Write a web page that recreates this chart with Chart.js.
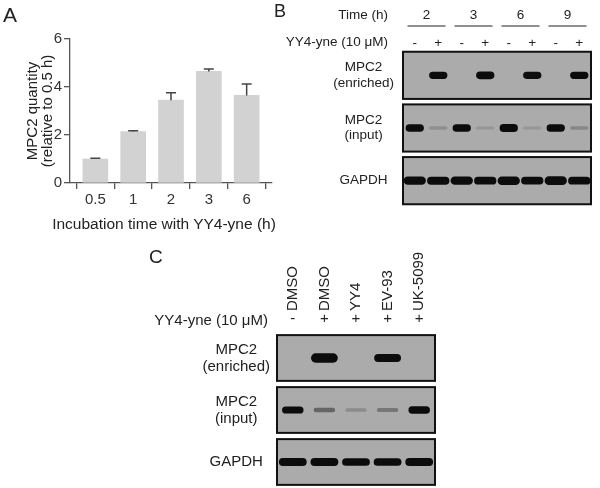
<!DOCTYPE html>
<html>
<head>
<meta charset="utf-8">
<script src="https://cdn.jsdelivr.net/npm/chart.js@4.4.1/dist/chart.umd.min.js"></script>
<style>
  body { margin: 0; background: #fff; font-family: "Liberation Sans", Arial, sans-serif; color: #222; }
  #fig { position: relative; width: 600px; height: 488px; overflow: hidden; }
  .box { position: absolute; }
  .lbl { position: absolute; white-space: nowrap; line-height: 1; }
</style>
</head>
<body>
<div id="fig">
  <div class="box" style="left:0;top:0;width:300px;height:240px"><canvas id="chartA"></canvas></div>
  <div class="box" style="left:275px;top:0;width:325px;height:210px"><canvas id="chartB"></canvas></div>
  <div class="box" style="left:140px;top:240px;width:300px;height:248px"><canvas id="chartC"></canvas></div>

  <div class="lbl" style="left:3px;top:4px;font-size:21px">A</div>
  <div class="lbl" style="left:52px;width:224px;text-align:center;top:216px;font-size:15.5px">Incubation time with YY4-yne (h)</div>
  <div class="lbl" style="left:274px;top:2px;font-size:18px">B</div>
  <div class="lbl" style="right:212px;top:8px;font-size:13.5px">Time (h)</div>
  <div class="lbl" style="right:212px;top:35px;font-size:13.5px">YY4-yne (10 μM)</div>
  <div class="lbl" style="left:149px;top:247px;font-size:19px">C</div>
  <div class="lbl" style="right:332px;top:312px;font-size:15px">YY4-yne (10 μM)</div>
</div>

<script>
// panel A: MPC2 labelling over time
const incubationTimes = ['0.5', '1', '2', '3', '6'];
const mpc2Quantity = [1.0, 2.14, 3.45, 4.65, 3.65];
const mpc2Error = [0.03, 0.04, 0.31, 0.1, 0.47];
const yTicksA = [0, 2, 4, 6];

// panel B: blot, band strength per lane (0 = no band)
const timeGroupsB = ['2', '3', '6', '9'];
const probeB = ['-', '+', '-', '+', '-', '+', '-', '+'];
const enrichedB = [0, 0.95, 0, 1.0, 0, 0.9, 0, 0.95];
const inputB = [1.0, 0.15, 1.0, 0.12, 1.05, 0.12, 0.95, 0.2];
const gapdhB = [1.15, 1.1, 1.15, 1.05, 1.2, 1.0, 1.25, 1.05];

// panel C: competition blot
const treatmentsC = ['DMSO', 'DMSO', 'YY4', 'EV-93', 'UK-5099'];
const probeC = ['-', '+', '+', '+', '+'];
const enrichedC = [0, 1.4, 0, 1.1, 0];
const inputC = [0.95, 0.4, 0.18, 0.3, 1.0];
const gapdhC = [1.1, 1.1, 1.05, 1.05, 1.1];

const blotRows = [['MPC2', '(enriched)'], ['MPC2', '(input)'], 'GAPDH'];

const FONT = "'Liberation Sans', Arial, sans-serif";
const INK = '#222';
const AXIS = '#555';

const errorBars = {
    id: 'errorBars',
    afterDatasetsDraw(chart) {
        const {ctx, scales: {x, y}} = chart;
        ctx.save();
        ctx.strokeStyle = '#444';
        ctx.lineWidth = 1.5;
        mpc2Quantity.forEach((v, i) => {
            const px = x.getPixelForValue(i);
            const top = y.getPixelForValue(v + mpc2Error[i]);
            const base = y.getPixelForValue(v);
            ctx.beginPath();
            ctx.moveTo(px, base);
            ctx.lineTo(px, top);
            ctx.moveTo(px - 5, top);
            ctx.lineTo(px + 5, top);
            ctx.stroke();
        });
        ctx.restore();
    }
};

function createTimeCourseChart(ctx) {
    new Chart(ctx, {
        type: 'bar',
        data: {
            datasets: [{
                data: mpc2Quantity.map((v, i) => ({x: i, y: v})),
                backgroundColor: '#d2d2d2',
                barThickness: 25
            }]
        },
        options: {
            responsive: true,
            maintainAspectRatio: false,
            animation: false,
            layout: { padding: { top: 39, right: 28, left: 0, bottom: 0 } },
            plugins: { legend: { display: false }, tooltip: { enabled: false } },
            scales: {
                x: {
                    type: 'linear',
                    offset: false,
                    min: -0.67,
                    max: 4.67,
                    afterBuildTicks: s => { s.ticks = incubationTimes.map((t, i) => ({value: i})); },
                    afterFit: s => { s.height = 57; },
                    ticks: {
                        callback: (v, i) => incubationTimes[i],
                        color: '#333',
                        font: { size: 15, family: FONT },
                        padding: 2,
                        maxRotation: 0
                    },
                    grid: { drawOnChartArea: false, tickLength: 6, color: AXIS, lineWidth: 1.3 },
                    border: { color: AXIS, width: 1.3 }
                },
                y: {
                    min: 0,
                    max: 6,
                    afterBuildTicks: s => { s.ticks = yTicksA.map(v => ({value: v})); },
                    afterFit: s => { s.width = 70; },
                    ticks: { color: '#333', font: { size: 15, family: FONT }, padding: 2 },
                    grid: { drawOnChartArea: false, tickLength: 6, color: AXIS, lineWidth: 1.3 },
                    border: { color: AXIS, width: 1.3 },
                    title: {
                        display: true,
                        text: ['MPC2 quantity', '(relative to 0.5 h)'],
                        color: INK,
                        font: { size: 15, family: FONT, lineHeight: 0.95 },
                        padding: { top: 26, bottom: 0 }
                    }
                }
            }
        },
        plugins: [errorBars]
    });
}

// grey membrane strips behind the bands, one per blot row
const blotStrips = {
    id: 'blotStrips',
    beforeDatasetsDraw(chart, args, opts) {
        const {ctx, chartArea: {left, right}, scales: {y}} = chart;
        ctx.save();
        for (let r = 0; r < blotRows.length; r++) {
            const top = y.getPixelForValue(r + opts.inset);
            const bottom = y.getPixelForValue(r + 1 - opts.inset);
            ctx.fillStyle = '#ababab';
            ctx.fillRect(left, top, right - left, bottom - top);
            ctx.strokeStyle = '#111';
            ctx.lineWidth = 2;
            ctx.strokeRect(left, top, right - left, bottom - top);
        }
        ctx.restore();
    },
    // soften band edges a little, like film exposure
    beforeDatasetDraw(chart) {
        chart.ctx.save();
        chart.ctx.filter = 'blur(0.7px)';
    },
    afterDatasetDraw(chart) {
        chart.ctx.restore();
    }
};

const groupUnderline = {
    id: 'groupUnderline',
    afterDraw(chart) {
        const s = chart.scales.time;
        if (!s) return;
        const {ctx} = chart;
        ctx.save();
        ctx.strokeStyle = '#222';
        ctx.lineWidth = 1.2;
        s.ticks.forEach((t, i) => {
            const cx = s.getPixelForTick(i);
            ctx.beginPath();
            ctx.moveTo(cx - 19, s.bottom - 7);
            ctx.lineTo(cx + 19, s.bottom - 7);
            ctx.stroke();
        });
        ctx.restore();
    }
};

function bandHalf(v) {
    return 0.025 + 0.047 * v;
}

function bandDataset(levels, row, width) {
    return {
        data: levels.map(v => v > 0 ? [row + 0.5 - bandHalf(v), row + 0.5 + bandHalf(v)] : null),
        backgroundColor: levels.map(v => 'rgba(12,12,12,' + Math.min(1, v * 1.1) + ')'),
        borderRadius: 20,
        borderSkipped: false,
        grouped: false,
        barPercentage: width,
        categoryPercentage: 1
    };
}

function createBlotChart(ctx, cfg) {
    const topAxis = {
        position: 'top',
        grid: { display: false, drawTicks: false },
        border: { display: false },
        afterFit: s => { s.height = cfg.signHeight; },
        ticks: {
            autoSkip: false,
            maxRotation: 0,
            color: INK,
            font: { size: cfg.fontSize, family: FONT },
            padding: cfg.signPad
        }
    };
    const upperAxis = {
        type: 'category',
        position: 'top',
        weight: 1,
        labels: cfg.upperLabels,
        offset: true,
        grid: { display: false, drawTicks: false },
        border: { display: false },
        afterFit: s => { s.height = cfg.upperHeight; },
        ticks: {
            autoSkip: false,
            minRotation: cfg.upperRotation,
            maxRotation: cfg.upperRotation,
            labelOffset: cfg.upperShift,
            color: INK,
            font: { size: cfg.fontSize, family: FONT },
            padding: cfg.upperPad
        }
    };
    new Chart(ctx, {
        type: 'bar',
        data: {
            labels: cfg.probe,
            datasets: [
                bandDataset(cfg.enriched, 0, cfg.widths[0]),
                bandDataset(cfg.input, 1, cfg.widths[1]),
                bandDataset(cfg.gapdh, 2, cfg.widths[2])
            ]
        },
        options: {
            responsive: true,
            maintainAspectRatio: false,
            animation: false,
            layout: { padding: cfg.padding },
            plugins: {
                legend: { display: false },
                tooltip: { enabled: false },
                blotStrips: { inset: cfg.inset }
            },
            scales: {
                x: topAxis,
                [cfg.upperId]: upperAxis,
                y: {
                    min: 0,
                    max: 3,
                    reverse: true,
                    afterBuildTicks: s => { s.ticks = blotRows.map((r, i) => ({value: i + 0.5})); },
                    afterFit: s => {
                        s.width = cfg.rowAxisWidth;
                        s.paddingTop = 0;
                        s.paddingBottom = 0;
                    },
                    grid: { display: false, drawTicks: false },
                    border: { display: false },
                    ticks: {
                        callback: (v, i) => blotRows[i],
                        crossAlign: 'center',
                        color: INK,
                        font: { size: cfg.fontSize, family: FONT, lineHeight: 1.15 },
                        padding: cfg.rowPad
                    }
                }
            }
        },
        plugins: [blotStrips, groupUnderline]
    });
}

createTimeCourseChart(document.getElementById('chartA'));

createBlotChart(document.getElementById('chartB'), {
    probe: probeB,
    enriched: enrichedB,
    input: inputB,
    gapdh: gapdhB,
    upperId: 'time',
    upperLabels: timeGroupsB,
    upperRotation: 0,
    upperShift: 0,
    upperHeight: 33,
    upperPad: 10,
    signHeight: 16,
    signPad: -2,
    fontSize: 13.5,
    rowAxisWidth: 128,
    rowPad: 9,
    widths: [0.78, 0.78, 0.95],
    inset: 0.052,
    padding: { top: 0, right: 9, bottom: 3, left: 0 }
});

createBlotChart(document.getElementById('chartC'), {
    probe: probeC,
    enriched: enrichedC,
    input: inputC,
    gapdh: gapdhC,
    upperId: 'names',
    upperLabels: treatmentsC,
    upperRotation: 90,
    upperShift: 18,
    upperHeight: 72,
    upperPad: 1,
    signHeight: 20,
    signPad: 4,
    fontSize: 15,
    rowAxisWidth: 137,
    rowPad: 7,
    widths: [0.85, 0.68, 0.88],
    inset: 0.06,
    padding: { top: 0, right: 5, bottom: 0, left: 0 }
});
</script>
</body>
</html>
